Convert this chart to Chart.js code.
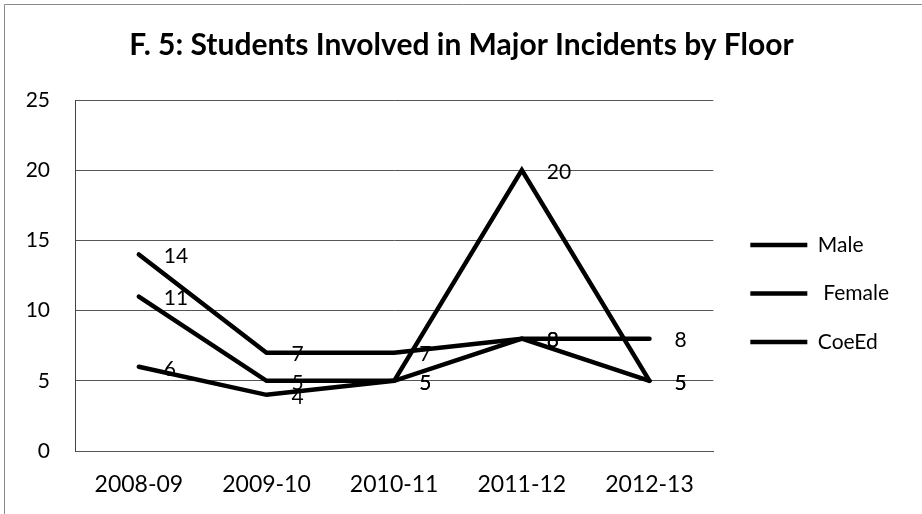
<!DOCTYPE html>
<html>
<head>
<meta charset="utf-8">
<script src="https://cdn.jsdelivr.net/npm/chart.js@4/dist/chart.umd.min.js"></script>
<style>
  html, body { margin: 0; padding: 0; background: #fff; }
  #wrap { width: 922px; height: 514px; }
</style>
</head>
<body>
<div id="wrap"><canvas id="floorChart" width="922" height="514"></canvas></div>
<script>
// school years on the x axis
const years = ["2008-09", "2009-10", "2010-11", "2011-12", "2012-13"];

// students per floor type
const maleCounts = [14, 7, 7, 8, 8];
const femaleCounts = [11, 5, 5, 20, 5];
const coedCounts = [6, 4, 5, 8, 5];

const yTicks = [0, 5, 10, 15, 20, 25];

const FONT = "Lato, 'Open Sans', sans-serif";

// white page with the thin frame on the top and left edges
const frame = {
    id: 'frame',
    beforeDraw(chart) {
        const ctx = chart.ctx;
        ctx.save();
        ctx.fillStyle = '#fff';
        ctx.fillRect(0, 0, chart.width, chart.height);
        ctx.strokeStyle = '#8a8a8a';
        ctx.lineWidth = 1;
        ctx.beginPath();
        ctx.moveTo(4.5, chart.height);
        ctx.lineTo(4.5, 4.5);
        ctx.lineTo(chart.width, 4.5);
        ctx.stroke();
        ctx.restore();
    }
};

// value labels to the right of each point
const valueLabels = {
    id: 'valueLabels',
    afterDatasetsDraw(chart) {
        const ctx = chart.ctx;
        ctx.save();
        ctx.font = '21px ' + FONT;
        ctx.fillStyle = '#000';
        ctx.textAlign = 'left';
        ctx.textBaseline = 'middle';
        chart.data.datasets.forEach((ds, i) => {
            chart.getDatasetMeta(i).data.forEach((pt, j) => {
                ctx.fillText(String(ds.data[j]), pt.x + 25, pt.y + 2);
            });
        });
        ctx.restore();
    }
};

function series(label, data) {
    return {
        label: label,
        data: data,
        borderColor: '#000',
        backgroundColor: '#000',
        borderWidth: 4.5,
        borderCapStyle: 'round',
        borderJoinStyle: 'miter',
        pointRadius: 0,
        pointHoverRadius: 0,
        tension: 0,
        fill: false
    };
}

new Chart(document.getElementById('floorChart'), {
    type: 'line',
    data: {
        labels: years,
        datasets: [
            series('Male', maleCounts),
            series(' Female', femaleCounts),
            series('CoeEd', coedCounts)
        ]
    },
    options: {
        responsive: false,
        animation: false,
        layout: { padding: { left: 24, right: 23, top: 0, bottom: 0 } },
        plugins: {
            title: {
                display: true,
                text: 'F. 5: Students Involved in Major Incidents by Floor',
                color: '#000',
                font: { family: FONT, size: 30, weight: 'bold' },
                padding: { top: 27, bottom: 37 }
            },
            legend: {
                position: 'right',
                align: 'center',
                maxWidth: 220,
                title: {
                    display: true,
                    text: ' ',
                    font: { size: 10 },
                    padding: { top: 0, bottom: 61 }
                },
                labels: {
                    color: '#000',
                    font: { family: FONT, size: 21 },
                    usePointStyle: true,
                    pointStyle: 'line',
                    pointStyleWidth: 57,
                    padding: 27.5
                }
            },
            tooltip: { enabled: false }
        },
        scales: {
            x: {
                offset: true,
                grid: { display: false, drawTicks: false },
                border: { display: true, color: '#555', width: 1 },
                ticks: { color: '#000', font: { family: FONT, size: 23 }, padding: 20, maxRotation: 0 },
                afterFit(scale) { scale.height = 63; }
            },
            y: {
                min: 0,
                max: 25,
                afterBuildTicks(scale) { scale.ticks = yTicks.map(v => ({ value: v })); },
                grid: { color: '#555', lineWidth: 1, drawTicks: false },
                border: { display: true, color: '#444', width: 1 },
                ticks: { color: '#000', font: { family: FONT, size: 21 }, padding: 25 },
                afterFit(scale) { scale.width = 51; }
            },
            gap: {
                position: 'right',
                display: true,
                grid: { display: false, drawTicks: false },
                border: { display: false },
                ticks: { display: false },
                afterFit(scale) { scale.width = 9.5; }
            }
        }
    },
    plugins: [frame, valueLabels]
});
</script>
</body>
</html>
